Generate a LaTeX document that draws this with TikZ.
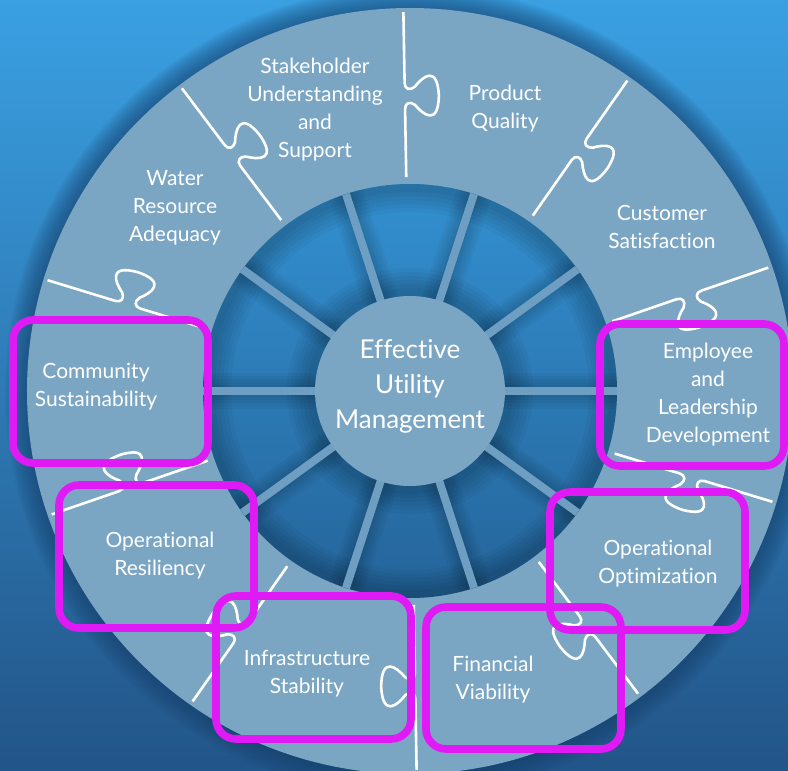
\documentclass[tikz,border=0pt]{standalone}
\usepackage{fontspec}
\setmainfont{Lato}[Ligatures=NoCommon]
\usepackage{xcolor}
\usepackage{tikz}

\definecolor{bgtop}{HTML}{3AA0E2}
\definecolor{bgbot}{HTML}{225588}
\definecolor{glowc}{HTML}{163F6A}
\definecolor{ringc}{HTML}{7AA6C4}
\definecolor{disctop}{HTML}{3390D0}
\definecolor{discbot}{HTML}{25649A}
\definecolor{spokec}{HTML}{6E9FC2}
\definecolor{hilitec}{HTML}{E01AF5}

\begin{document}
\begin{tikzpicture}[x=0.5pt, y=0.5pt]
    \tikzstyle{piece} = [text=white, align=center, font=\fontsize{10.5}{14}\selectfont]
    \tikzstyle{hub} = [text=white, align=center, font=\fontsize{13}{17.5}\selectfont]
    \tikzstyle{divider} = [draw=white, line width=1.3pt, line join=round]
    \tikzstyle{spoke} = [draw=spokec, line width=4pt]
    \tikzstyle{soft} = [draw=black, opacity=0.035]
    \tikzstyle{hilite} = [draw=hilitec, line width=3.8pt, rounded corners=10pt]

    \useasboundingbox (-410,-380) rectangle (378,391);
    \fill[top color=bgtop, bottom color=bgbot] (-410,-380) rectangle (378,391);

    % shadow round the ring
    \foreach \k in {0,...,11}
        \fill[glowc, opacity=0.07] (0,0) circle ({383+2*\k});
    \fill[ringc] (0,0) circle (383);

    % inner wheel
    \shade[top color=disctop, bottom color=discbot] (0,0) circle (207);
    \begin{scope}
        \clip (0,0) circle (207);
        \foreach \w in {28,24,...,8}
            \draw[soft, line width=\w pt] (0,0) circle (207);
        \foreach \a in {0,36,...,324}
            \foreach \w in {18,15,...,6}
                \draw[soft, line width=\w pt] (\a:90) -- (\a:210);
        \foreach \w in {28,24,...,8}
            \draw[soft, line width=\w pt] (0,0) circle (95);
    \end{scope}
    \foreach \a in {0,36,...,324}
        \draw[spoke] (\a:94) -- (\a:207);
    \fill[ringc] (0,0) circle (95);

    % puzzle cuts
    \foreach \a in {19,55,...,343} {
        \begin{scope}[rotate=\a]
            \draw[divider] (214,0) -- (282,0)
                .. controls (288,0) and (290,-5) .. (286,-10)
                .. controls (276,-18) and (264,-33) .. (295,-34)
                .. controls (326,-33) and (314,-18) .. (304,-10)
                .. controls (300,-5) and (302,0) .. (308,0) -- (379,0);
        \end{scope}
    }

    \node [hub] (EUM) at (0,5) {Effective\\Utility\\Management};

    \node [piece] (P1) at (95,282) {Product\\Quality};
    \node [piece] (P2) at (-95,281) {Stakeholder\\Understanding\\and\\Support};
    \node [piece] (P3) at (-235,183) {Water\\Resource\\Adequacy};
    \node [piece] (P4) at (-314,4) {Community\\Sustainability};
    \node [piece] (P5) at (-250,-165) {Operational\\Resiliency};
    \node [piece] (P6) at (-103,-283) {Infrastructure\\Stability};
    \node [piece] (P7) at (83,-289) {Financial\\Viability};
    \node [piece] (P8) at (248,-173) {Operational\\Optimization};
    \node [piece] (P9) at (298,-4) {Employee\\and\\Leadership\\Development};
    \node [piece] (P0) at (252,164) {Customer\\Satisfaction};

    % highlighted pieces
    \draw[hilite] (-397,71) rectangle (-202,-72);
    \draw[hilite] (-351,-94) rectangle (-156,-237);
    \draw[hilite] (190,67) rectangle (374,-75);
    \draw[hilite] (140,-101) rectangle (335,-239);
    \draw[hilite] (-194,-205) rectangle (1,-348);
    \draw[hilite] (16,-216) rectangle (211,-358);
\end{tikzpicture}
\end{document}
